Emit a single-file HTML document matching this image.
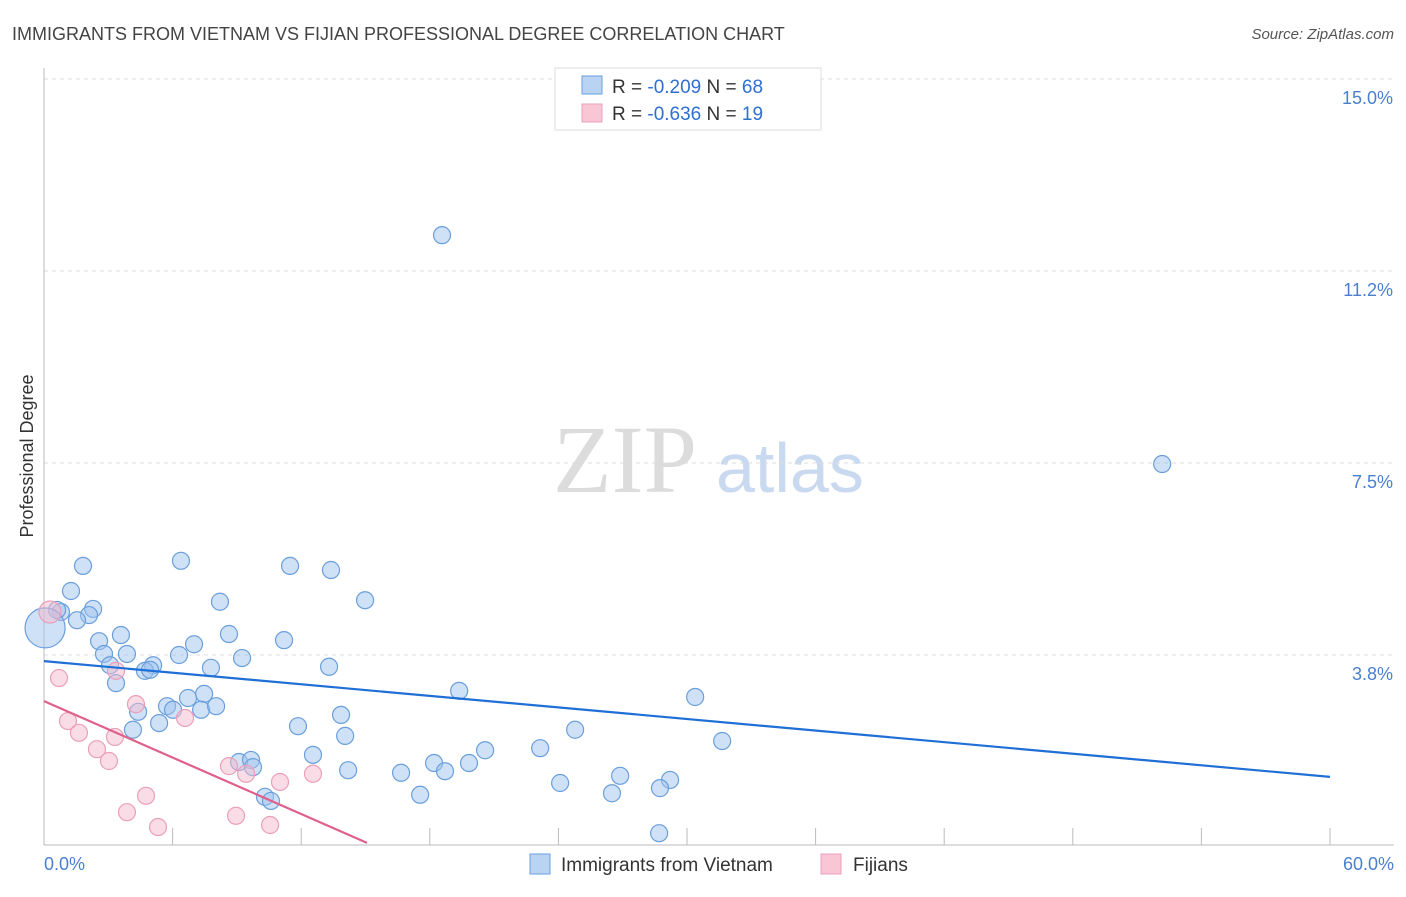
<!DOCTYPE html>
<html><head><meta charset="utf-8"><style>
body{margin:0;background:#fff;font-family:"Liberation Sans",sans-serif;}
svg text{font-family:"Liberation Sans",sans-serif;}
</style></head><body>
<svg width="1406" height="892" xmlns="http://www.w3.org/2000/svg">
<text x="12" y="40" font-size="18" fill="#444">IMMIGRANTS FROM VIETNAM VS FIJIAN PROFESSIONAL DEGREE CORRELATION CHART</text>
<text x="1394" y="39" font-size="15" fill="#555" font-style="italic" text-anchor="end">Source: ZipAtlas.com</text>
<g>
<text x="553" y="492" font-size="96" fill="#dcdcdc" font-family="Liberation Serif" style="font-family:'Liberation Serif',serif">ZIP</text>
<text x="716" y="492" font-size="70" fill="#c9d9ef">atlas</text>
</g>
<g id="grid"></g>
<g id="axes"></g>
<g id="pts"></g>
<g id="lines"></g>
<text transform="translate(33,456) rotate(-90)" font-size="18" fill="#333" text-anchor="middle">Professional Degree</text>
<text x="44" y="870" font-size="18" fill="#4a7fd0">0.0%</text>
<text x="1394" y="870" font-size="18" fill="#4a7fd0" text-anchor="end">60.0%</text>
<g>
<rect x="555" y="68" width="266" height="62" fill="#fff" stroke="#ddd"/>
<rect x="582" y="76" width="20" height="18" fill="#b9d3f3" stroke="#6a9fdc"/>
<text x="612" y="93" font-size="19" fill="#333">R = <tspan fill="#2f6fd0">-0.209</tspan>   N = <tspan fill="#2f6fd0">68</tspan></text>
<rect x="582" y="104" width="20" height="18" fill="#f8c6d4" stroke="#eaa0b8"/>
<text x="612" y="120" font-size="19" fill="#333">R = <tspan fill="#2f6fd0">-0.636</tspan>   N =  <tspan fill="#2f6fd0">19</tspan></text>
</g>
<g>
<rect x="530" y="854" width="20" height="20" fill="#b9d3f3" stroke="#6a9fdc"/>
<text x="561" y="871" font-size="19" fill="#333">Immigrants from Vietnam</text>
<rect x="821" y="854" width="20" height="20" fill="#f8c6d4" stroke="#eaa0b8"/>
<text x="853" y="871" font-size="19" fill="#333">Fijians</text>
</g>
</svg>
<script>
const yTicks=[3.8,7.5,11.2,15.0];
const yTickVals=[3.75,7.5,11.25,15];
const xTickVals=[6,12,18,24,30,36,42,48,54,60];
const blueX=[18.57,52.17,1.82,6.39,11.48,13.39,1.26,14.98,8.21,2.29,0.79,2.10,1.54,0.61,3.59,2.57,7.00,8.63,11.20,2.80,3.87,6.30,9.24,3.08,5.09,7.79,13.30,4.71,4.95,3.36,19.37,30.38,6.72,7.47,5.74,4.39,6.02,7.33,8.03,5.37,4.15,11.85,13.86,24.78,14.05,31.64,20.58,23.15,12.55,9.10,9.66,9.75,18.20,19.83,18.71,14.19,16.66,26.88,29.21,24.08,28.74,17.55,26.50,10.31,10.59,28.70,0.05];
const blueY=[11.95,7.48,5.49,5.59,5.49,5.41,5.00,4.82,4.79,4.65,4.59,4.53,4.43,4.63,4.14,4.02,3.96,4.16,4.04,3.77,3.77,3.75,3.69,3.55,3.55,3.50,3.52,3.44,3.46,3.20,3.05,2.93,2.91,2.99,2.75,2.64,2.68,2.68,2.75,2.42,2.29,2.36,2.58,2.29,2.17,2.07,1.89,1.93,1.80,1.66,1.70,1.56,1.64,1.64,1.48,1.50,1.45,1.39,1.31,1.25,1.15,1.02,1.05,0.98,0.90,0.27,4.28];
const pinkX=[0.70,3.36,1.12,1.63,2.47,3.31,3.03,4.29,6.58,4.76,3.87,5.32,8.63,9.43,11.01,12.55,8.96,10.55,0.28];
const pinkY=[3.30,3.44,2.46,2.23,1.91,2.15,1.68,2.79,2.52,1.00,0.68,0.39,1.58,1.43,1.27,1.43,0.61,0.43,4.59];
const blueTrend=[[0,3.63],[60,1.37]];
const pinkTrend=[[0,2.85],[15.07,0.08]];
const NS="http://www.w3.org/2000/svg";
const X=v=>44+v*(1286/60), Y=v=>847-v*51.2;
function mk(tag,attrs,parent){const e=document.createElementNS(NS,tag);for(const k in attrs)e.setAttribute(k,attrs[k]);parent.appendChild(e);return e;}
const grid=document.getElementById('grid'),axes=document.getElementById('axes'),pts=document.getElementById('pts'),lines=document.getElementById('lines');
yTickVals.forEach((v,i)=>{
 const l=mk('line',{x1:44,x2:1394,y1:Y(v),y2:Y(v),stroke:'#ddd','stroke-dasharray':'4,4'},grid);
 
 
 const t=mk('text',{x:1393,y:Y(v)+25,'font-size':18,fill:'#4a7fd0','text-anchor':'end'},grid);
 t.textContent=yTicks[i].toFixed(1)+'%';
 
 
});
mk('line',{x1:44,x2:44,y1:68,y2:845,stroke:'#bbb'},axes);
mk('line',{x1:44,x2:1394,y1:845,y2:845,stroke:'#bbb'},axes);
xTickVals.forEach(v=>{
 const l=mk('line',{x1:X(v),x2:X(v),y1:828,y2:845,stroke:'#bbb'},axes);
 
 
});
blueX.forEach((x,i)=>{
 const c=mk('circle',{cx:X(x),cy:Y(blueY[i]),r:i==blueX.length-1?20:8.5,fill:'rgba(160,195,238,0.5)',stroke:'#6a9fdc','stroke-width':1.2},pts);
 
 
});
pinkX.forEach((x,i)=>{
 const c=mk('circle',{cx:X(x),cy:Y(pinkY[i]),r:i==pinkX.length-1?11:8.5,fill:'rgba(246,185,205,0.5)',stroke:'#eaa0b8','stroke-width':1.2},pts);
 
 
});
const bl=mk('line',{x1:X(blueTrend[0][0]),y1:Y(blueTrend[0][1]),x2:X(blueTrend[1][0]),y2:Y(blueTrend[1][1]),stroke:'#1f6fd6','stroke-width':2.2},lines);


const pl=mk('line',{x1:X(pinkTrend[0][0]),y1:Y(pinkTrend[0][1]),x2:X(pinkTrend[1][0]),y2:Y(pinkTrend[1][1]),stroke:'#e0608a','stroke-width':2.2},lines);


</script>
</body></html>
